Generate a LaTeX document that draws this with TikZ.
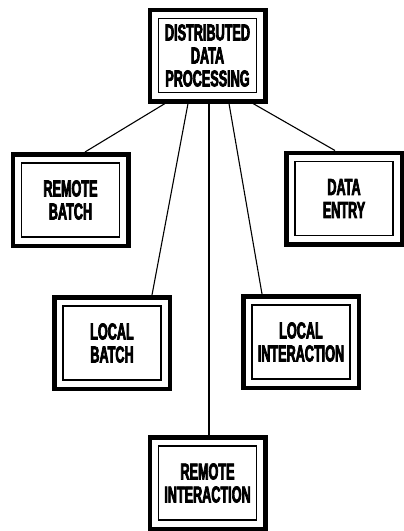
\documentclass[tikz,border=0pt]{standalone}
\usepackage{fontspec}
\newfontfamily\boxfont[FakeStretch=0.55, FakeBold=3]{Liberation Sans Bold}
\usetikzlibrary{positioning,calc}

\begin{document}
\begin{tikzpicture}[
    x=1pt, y=-1pt,
    modebox/.style={rectangle, draw=black, line width=4.5pt, fill=white, align=center,
        minimum width=115.5pt, minimum height=91.5pt, inner sep=0pt,
        font={\boxfont\fontsize{23}{23}\selectfont},
        path picture={\draw[line width=1.2pt]
            ([shift={(8.75pt,8.75pt)}]path picture bounding box.south west) rectangle
            ([shift={(-8.75pt,-8.75pt)}]path picture bounding box.north east);}},
    link/.style={line width=1.1pt, draw=black}
]
    \useasboundingbox (0,0) rectangle (404,531);

    \node [modebox] (ddp) at (207.5,55.5) {DISTRIBUTED\\DATA\\PROCESSING};
    \node [modebox] (rbatch) at (70.5,200) {REMOTE\\BATCH};
    \node [modebox] (dentry) at (344,198.5) {DATA\\ENTRY};
    \node [modebox] (lbatch) at (112,343) {LOCAL\\BATCH};
    \node [modebox] (linter) at (301,342) {LOCAL\\INTERACTION};
    \node [modebox] (rinter) at (207.5,483) {REMOTE\\INTERACTION};

    \draw [link] ([xshift=-42.5pt]ddp.south) -- ([xshift=14.5pt]rbatch.north);
    \draw [link] ([xshift=-19.5pt]ddp.south) -- ([xshift=40pt]lbatch.north);
    \draw [link] ([xshift=1.5pt]ddp.south) -- ([xshift=1.5pt]rinter.north);
    \draw [link] ([xshift=21.5pt]ddp.south) -- ([xshift=-39pt]linter.north);
    \draw [link] ([xshift=45.5pt]ddp.south) -- ([xshift=-9pt]dentry.north);
\end{tikzpicture}
\end{document}
